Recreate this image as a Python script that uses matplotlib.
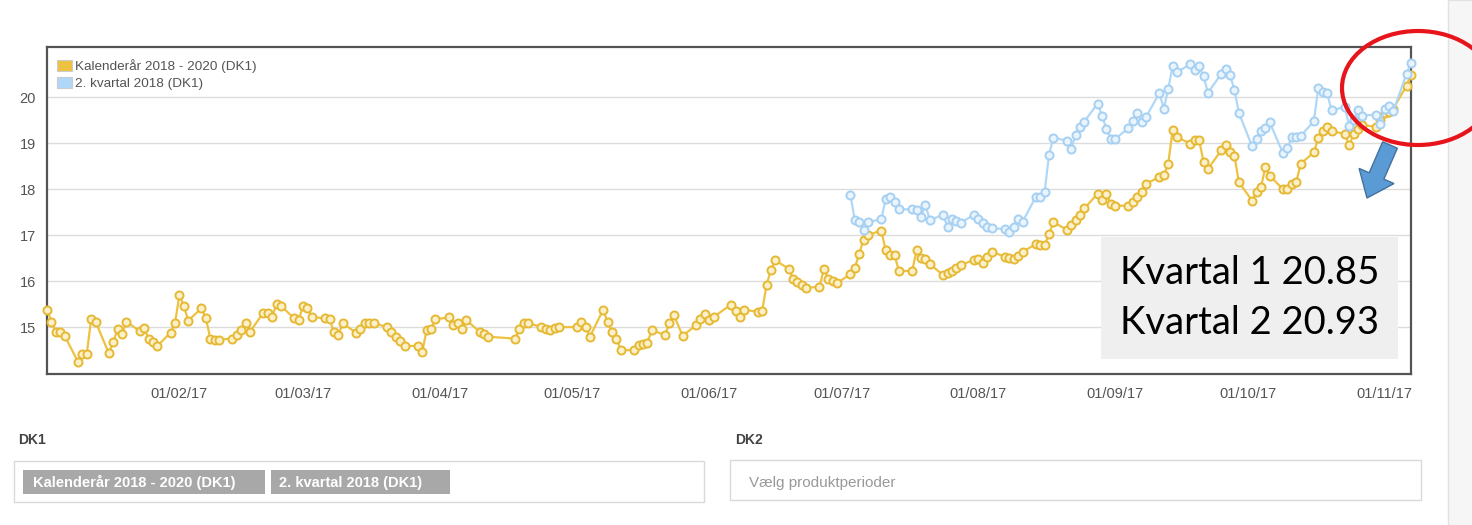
import matplotlib

matplotlib.use("Agg")
import matplotlib.dates as mdates
import matplotlib.pyplot as plt
import pandas as pd
from matplotlib.patches import Ellipse, FancyArrow, Patch, Rectangle

plt.rcParams["font.family"] = ["Liberation Sans", "DejaVu Sans"]

W, H = 1472, 525

SERIES_NAMES = ["Kalenderår 2018 - 2020 (DK1)", "2. kvartal 2018 (DK1)"]
SERIES_COLORS = ["#edc240", "#afd8f8"]
# trading days without a quote (Easter, 1 May, Ascension, Whit Monday)
HOLIDAYS = ["2017-04-13", "2017-04-14", "2017-04-17", "2017-05-01", "2017-05-25", "2017-06-05"]
CAL_START = "2017-01-02"
Q2_START = "2017-07-03"
END = "2017-11-07"

cal_values = [
    # jan
    15.38, 15.12, 14.90, 14.90, 14.81, 14.25, 14.41, 14.41, 15.17, 15.12, 14.43,
    14.68, 14.95, 14.85, 15.12, 14.91, 14.99, 14.75, 14.68, 14.59, 14.88, 15.09,
    # feb
    15.70, 15.46, 15.14, 15.41, 15.19, 14.75, 14.73, 14.73, 14.75, 14.83,
    14.93, 15.08, 14.90, 15.31, 15.30, 15.22, 15.51, 15.46, 15.19, 15.15,
    # mar
    15.46, 15.41, 15.22, 15.19, 15.17, 14.90, 14.83, 15.08, 14.88, 14.95, 15.08, 15.08,
    15.09, 15.00, 14.90, 14.79, 14.70, 14.59, 14.59, 14.46, 14.93, 14.95, 15.17,
    # apr
    15.21, 15.04, 15.09, 14.95, 15.15, 14.90, 14.86, 14.79, 14.75,
    14.95, 15.08, 15.09, 15.00, 14.95, 14.93, 14.97, 15.00,
    # may
    15.00, 15.12, 15.00, 14.79, 15.38, 15.10, 14.90, 14.75, 14.50, 14.50, 14.62,
    14.64, 14.66, 14.93, 14.83, 15.08, 15.26, 14.81, 15.04, 15.17, 15.29,
    # jun
    15.15, 15.22, 15.49, 15.36, 15.22, 15.38, 15.33, 15.35, 15.91, 16.25, 16.45,
    16.27, 16.05, 15.98, 15.91, 15.86, 15.87, 16.27, 16.05, 16.01, 15.96,
    # jul
    16.15, 16.28, 16.60, 16.90, 17.00, 17.10, 16.67, 16.57, 16.57, 16.22, 16.22,
    16.67, 16.50, 16.47, 16.37, 16.13, 16.18, 16.22, 16.28, 16.35, 16.46,
    # aug
    16.47, 16.39, 16.53, 16.64, 16.53, 16.50, 16.47, 16.55, 16.64, 16.80, 16.78, 16.78,
    17.02, 17.28, 17.12, 17.22, 17.33, 17.44, 17.58, 17.90, 17.76, 17.89, 17.68,
    # sep
    17.64, 17.64, 17.72, 17.83, 17.93, 18.12, 18.26, 18.30, 18.55, 19.28, 19.13,
    18.99, 19.06, 19.07, 18.59, 18.44, 18.84, 18.95, 18.80, 18.73, 18.15,
    # oct
    17.75, 17.93, 18.04, 18.47, 18.29, 18.00, 18.00, 18.11, 18.15, 18.55, 18.80,
    19.11, 19.27, 19.35, 19.26, 19.20, 18.95, 19.20, 19.30, 19.40, 19.35, 19.50,
    # nov
    19.65, 19.67, 19.75, 20.25, 20.48,
]

q2_values = [
    # jul
    17.88, 17.32, 17.29, 17.11, 17.29, 17.34, 17.79, 17.83, 17.72, 17.56, 17.56,
    17.55, 17.40, 17.65, 17.33, 17.44, 17.18, 17.35, 17.30, 17.27, 17.44,
    # aug
    17.35, 17.26, 17.18, 17.15, 17.13, 17.06, 17.18, 17.36, 17.29, 17.83, 17.83, 17.94,
    18.75, 19.12, 19.05, 18.88, 19.17, 19.35, 19.47, 19.86, 19.60, 19.31, 19.09,
    # sep
    19.09, 19.33, 19.49, 19.65, 19.46, 19.57, 20.09, 19.75, 20.18, 20.67, 20.54,
    20.72, 20.60, 20.67, 20.45, 20.10, 20.50, 20.62, 20.48, 20.16, 19.66,
    # oct
    18.93, 19.09, 19.26, 19.32, 19.45, 18.78, 18.90, 19.13, 19.13, 19.15, 19.48,
    20.20, 20.11, 20.09, 19.71, 19.79, 19.37, 19.50, 19.72, 19.60, 19.62, 19.42,
    # nov
    19.75, 19.80, 19.70, 20.51, 20.75,
]

Y_TICKS = [15, 16, 17, 18, 19, 20]
NOTE_LINES = ["Kvartal 1 20.85", "Kvartal 2 20.93"]
MARKET_LABELS = ["DK1", "DK2"]
PLACEHOLDER = "Vælg produktperioder"

cal_dates = pd.bdate_range(CAL_START, END, freq="C", holidays=HOLIDAYS)
q2_dates = pd.bdate_range(Q2_START, END, freq="C", holidays=HOLIDAYS)
assert len(cal_dates) == len(cal_values), (len(cal_dates), len(cal_values))
assert len(q2_dates) == len(q2_values), (len(q2_dates), len(q2_values))

fig = plt.figure(figsize=(W / 100, H / 100), dpi=100)
fig.patch.set_facecolor("white")

# chart area, placed in pixels like the screenshot
ax = fig.add_axes([47 / W, (H - 374) / H, 1364 / W, 327 / H])
ax.plot(cal_dates, cal_values, color=SERIES_COLORS[0], lw=1.6, marker="o", ms=5.8,
        mfc="#fbf0c9", mec="#e6b935", mew=1.4, clip_on=False, zorder=3)
ax.plot(q2_dates, q2_values, color=SERIES_COLORS[1], lw=1.6, marker="o", ms=5.8,
        mfc="#eaf4fd", mec="#a6d0f2", mew=1.4, clip_on=False, zorder=4)

ax.set_xlim(pd.Timestamp(CAL_START), pd.Timestamp(END))
ax.set_ylim(13.98, 21.09)
ax.set_yticks(Y_TICKS)
ax.yaxis.grid(True, color="#dcdcdc", lw=1.0)
ax.set_axisbelow(True)
ax.xaxis.set_major_locator(mdates.MonthLocator())
ax.xaxis.set_major_formatter(mdates.DateFormatter("%d/%m/%y"))
ax.tick_params(axis="both", length=0, labelsize=10.5, colors="#545454")
ax.tick_params(axis="x", pad=9)
ax.tick_params(axis="y", pad=8)
for spine in ax.spines.values():
    spine.set_color("#545454")
    spine.set_linewidth(1.6)

handles = [Patch(facecolor=c, edgecolor="#cccccc", lw=0.8) for c in SERIES_COLORS]
ax.legend(handles, SERIES_NAMES, loc="upper left", bbox_to_anchor=(0.007, 0.962),
          frameon=False, fontsize=9.7, handlelength=1.15, handleheight=0.9,
          handletextpad=0.25, labelspacing=0.28, borderpad=0, borderaxespad=0,
          labelcolor="#545454")

# overlay in pixel coordinates for the page furniture and the annotations
ov = fig.add_axes([0, 0, 1, 1], zorder=5)
ov.set_xlim(0, W)
ov.set_ylim(H, 0)
ov.axis("off")
ov.patch.set_alpha(0)

# scrollbar strip on the right edge of the page
ov.add_patch(Rectangle((1448, 0), 30, H, facecolor="#f6f6f6", edgecolor="#e2e2e2", lw=1.0,
                       clip_on=False))

ov.add_patch(Rectangle((1101, 237), 297, 122, facecolor="#efefef", edgecolor="none"))
ov.text(1120, 273, NOTE_LINES[0], fontsize=27.5, family="Lato", va="center", color="black")
ov.text(1120, 323, NOTE_LINES[1], fontsize=27.5, family="Lato", va="center", color="black")

ov.add_patch(Ellipse((1418, 88), 152, 114, facecolor="none", edgecolor="#e8141b", lw=3.0,
                     clip_on=False))
ov.add_patch(FancyArrow(1390, 145, -23, 53, width=16, head_width=38, head_length=24,
                        length_includes_head=True, facecolor="#5b9bd5", edgecolor="#41719c", lw=1.0))

# selector boxes under the chart
ov.text(18, 440, MARKET_LABELS[0], fontsize=10, fontweight="bold", color="#444444", va="center")
ov.add_patch(Rectangle((14, 461), 690, 41, facecolor="white", edgecolor="#d9d9d9", lw=1.0))
ov.add_patch(Rectangle((23, 470), 242, 24, facecolor="#a8a8a8", edgecolor="none"))
ov.text(33, 482.5, SERIES_NAMES[0], fontsize=10.5, fontweight="bold", color="white", va="center")
ov.add_patch(Rectangle((271, 470), 179, 24, facecolor="#a8a8a8", edgecolor="none"))
ov.text(279, 482.5, SERIES_NAMES[1], fontsize=10.5, fontweight="bold", color="white", va="center")

ov.text(735, 440, MARKET_LABELS[1], fontsize=10, fontweight="bold", color="#444444", va="center")
ov.add_patch(Rectangle((730, 460), 691, 40, facecolor="white", edgecolor="#d9d9d9", lw=1.0))
ov.text(749, 483, PLACEHOLDER, fontsize=11, color="#999999", va="center")

fig.savefig("out.png", dpi=100, facecolor="white")
